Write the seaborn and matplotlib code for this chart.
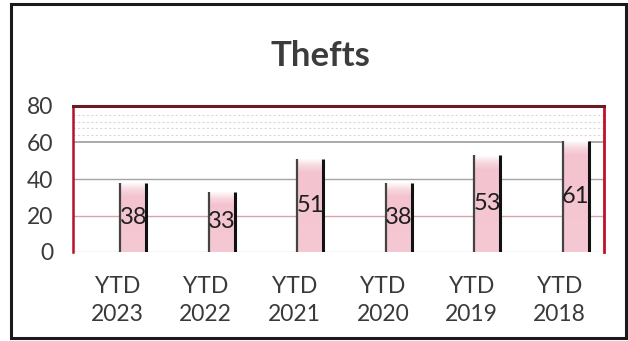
import numpy as np
import pandas as pd
import matplotlib
matplotlib.use("Agg")
import matplotlib.pyplot as plt
from matplotlib.patches import Rectangle
from matplotlib.colors import LinearSegmentedColormap
import seaborn as sns

# Year-to-date theft counts
periods = ["YTD\n2023", "YTD\n2022", "YTD\n2021", "YTD\n2020", "YTD\n2019", "YTD\n2018"]
thefts = [38, 33, 51, 38, 53, 61]
y_ticks = [0, 20, 40, 60, 80]

df = pd.DataFrame({"period": periods, "thefts": thefts})

sns.set_theme(style="white")
plt.rcParams["font.family"] = ["Lato", "DejaVu Sans"]

TEXT = "#3a3a3a"
PINK = "#f3c2ce"

fig = plt.figure(figsize=(6.28, 3.41), dpi=100)
ax = fig.add_axes([73 / 628, 1 - 252 / 341, (604 - 73) / 628, (252 - 106) / 341])

sns.barplot(data=df, x="period", y="thefts", color=PINK, width=0.29,
            saturation=1, edgecolor="none", ax=ax, zorder=3)

# bars sit a little to the right of their category labels
for p in ax.patches:
    p.set_x(p.get_x() + 0.18)

ax.set_xlim(-0.5, len(periods) - 0.5)
ax.set_ylim(0, 80)

# white-to-pink fade at the top of each bar, and dark side edges
cmap = LinearSegmentedColormap.from_list("barfade", ["#ffffff", "#f7d8df", PINK, "#f5c9d4"], N=256)
for p in ax.patches:
    x0, w, h = p.get_x(), p.get_width(), p.get_height()
    yy = np.linspace(h, 0, 200)
    frac = np.clip((h - yy) / h, 0, 1)
    fade = np.clip((h - yy) / 9.0, 0, 1) * 0.67 + frac * 0.33
    grad = fade[:, None] * np.ones((1, 10))
    im = ax.imshow(grad, extent=[x0, x0 + w, 0, h], aspect="auto", cmap=cmap,
                   vmin=0, vmax=1, zorder=3.5, interpolation="bilinear")
    im.set_clip_path(p)
    ax.plot([x0, x0], [0, h], color="#444444", lw=1.6, zorder=4, solid_capstyle="butt")
    ax.plot([x0 + w, x0 + w], [0, h], color="#111111", lw=2.2, zorder=4, solid_capstyle="butt")

ax.set_xlim(-0.5, len(periods) - 0.5)
ax.set_ylim(0, 80)

# value labels in the middle of each bar
ax.bar_label(ax.containers[0], labels=[str(v) for v in thefts], label_type="center",
             fontsize=17, color="#1e1e1e", zorder=6)

# gridlines
ax.axhline(20, color="#d9a3ab", lw=1.0, zorder=1)
ax.axhline(40, color="#a4a4a4", lw=1.0, zorder=1)
ax.axhline(60, color="#9c9c9c", lw=1.2, zorder=1)
ax.axhline(0, color="#c8c8c8", lw=1.0, zorder=1)
for yv in [64, 68, 71.5, 75]:
    ax.axhline(yv, color="#c9c9c9", lw=0.8, ls=(0, (2, 2)), alpha=0.7, zorder=1)

ax.set_yticks(y_ticks)
ax.set_yticklabels([str(v) for v in y_ticks])
ax.tick_params(axis="y", length=0, pad=14, labelsize=16.5, labelcolor=TEXT)
ax.tick_params(axis="x", length=0, pad=17, labelsize=16.5, labelcolor=TEXT)
for lab in ax.get_xticklabels():
    lab.set_linespacing(1.42)
ax.set_xlabel("")
ax.set_ylabel("")

# plot-area border
ax.spines["left"].set_color("#b8102a")
ax.spines["left"].set_linewidth(1.8)
ax.spines["right"].set_color("#c0102a")
ax.spines["right"].set_linewidth(2.0)
ax.spines["top"].set_color("#6e1a22")
ax.spines["top"].set_linewidth(2.2)
ax.spines["bottom"].set_visible(False)

fig.text(0.51, 1 - 56 / 341, "Thefts", ha="center", va="center",
         fontsize=25, fontweight="bold", color="#3c3c3c")

# outer chart frame
fig.patches.append(Rectangle((11 / 628, 1 - 338 / 341), (626 - 11) / 628, (338 - 4) / 341,
                             transform=fig.transFigure, fill=False,
                             edgecolor="#1a1a1a", lw=2.2, zorder=10))

fig.savefig("out.png", dpi=100, facecolor="white")
